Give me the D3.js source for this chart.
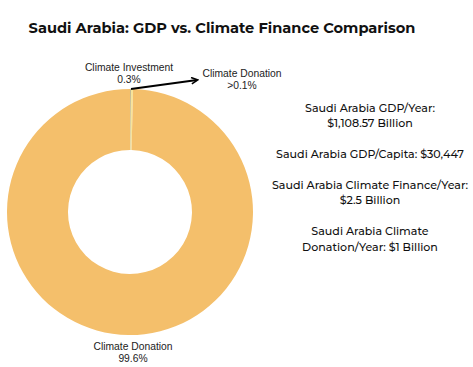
<!DOCTYPE html>
<html><head><meta charset="utf-8">
<script src="https://cdn.jsdelivr.net/npm/d3@7"></script>
<style>body{margin:0;background:#fff}svg{display:block}</style>
</head><body>
<svg id="c" width="473" height="367"></svg>
<script>
const title = "Saudi Arabia: GDP vs. Climate Finance Comparison";
const categories = ["Climate Donation (small)", "Climate Investment", "Climate Donation"];
const values = [0.1, 0.3, 99.6];
const colors = ["#9a9270", "#f7e49a", "#f4bf6b"];
const labelNames = ["Climate Donation", "Climate Investment", "Climate Donation"];
const labelPcts = [">0.1%", "0.3%", "99.6%"];
const sideText = [
  ["Saudi Arabia GDP/Year:", "$1,108.57 Billion"],
  ["Saudi Arabia GDP/Capita: $30,447"],
  ["Saudi Arabia Climate Finance/Year:", "$2.5 Billion"],
  ["Saudi Arabia Climate", "Donation/Year: $1 Billion"]
];

const svg = d3.select("#c");
const tt = svg.append("text").attr("x", 222).attr("y", 33).attr("text-anchor", "middle")
  .style("font-family", "Montserrat, Lato, 'Open Sans', sans-serif").style("font-weight", 700)
  .style("font-size", "17px").attr("fill", "#111").text(title);
const tw = tt.node().getComputedTextLength();
tt.style("font-size", (17 * 387 / tw) + "px");

const cx = 130, cy = 212, R = 123, r = 62;
const pie = d3.pie().sort(null).value(d => d)(values);
const arc = d3.arc().innerRadius(r).outerRadius(R);
const g = svg.append("g").attr("transform", `translate(${cx},${cy})`);
g.selectAll("path").data(pie).join("path").attr("d", arc).attr("fill", (d, i) => colors[i]);

const lab = svg.append("g").style("font-family", "'Liberation Sans', Arial, sans-serif")
  .style("font-size", "10.3px").attr("fill", "#222").attr("text-anchor", "middle");
const labelPos = [[242, 77], [129, 71], [133, 350]];
labelPos.forEach((p, i) => {
  lab.append("text").attr("x", p[0]).attr("y", p[1]).text(labelNames[i]);
  lab.append("text").attr("x", p[0]).attr("y", p[1] + 12).text(labelPcts[i]);
});

svg.append("defs").append("marker").attr("id", "ah").attr("viewBox", "0 0 10 10")
  .attr("refX", 8).attr("refY", 5).attr("markerWidth", 4).attr("markerHeight", 4)
  .attr("orient", "auto").append("path").attr("d", "M1,1 L9,5 L1,9").attr("fill", "none")
  .attr("stroke", "#000").attr("stroke-width", 2);
svg.append("line").attr("x1", 131).attr("y1", 89).attr("x2", 197).attr("y2", 80)
  .attr("stroke", "#000").attr("stroke-width", 2).attr("marker-end", "url(#ah)");

const st = svg.append("g").style("font-family", "Montserrat, Lato, 'Open Sans', sans-serif")
  .style("font-weight", 500).style("font-size", "12px").attr("fill", "#111").attr("text-anchor", "middle");
const baselines = [[112, 127], [158], [189, 204], [235, 251]];
sideText.forEach((lines, i) => lines.forEach((t, j) => {
  st.append("text").attr("x", 370).attr("y", baselines[i][j]).text(t);
}));
const probe = st.selectAll("text").filter(function(){ return this.textContent === sideText[1][0]; });
const pw = probe.node().getComputedTextLength();
st.style("font-size", (12 * 188 / pw) + "px");
</script>
</body></html>
